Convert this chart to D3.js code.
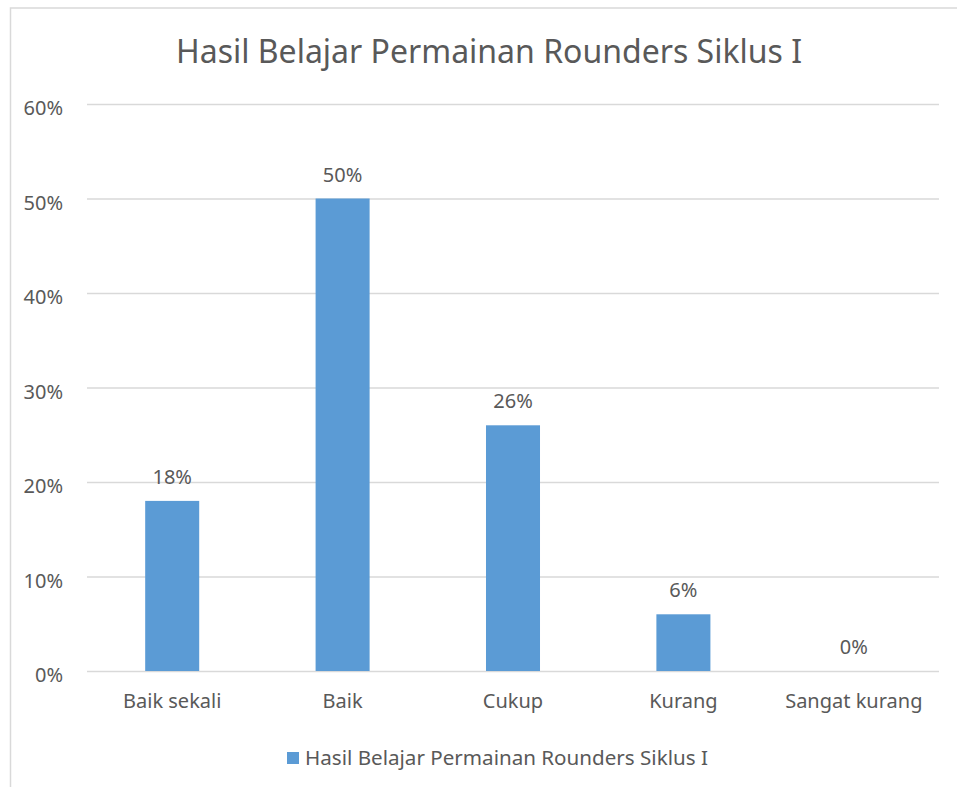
<!DOCTYPE html>
<html><head><meta charset="utf-8">
<script src="https://cdn.jsdelivr.net/npm/d3@7"></script>
<style>body{margin:0;background:#fff}svg{display:block}text{font-family:"Noto Sans",sans-serif;fill:#595959}</style>
</head><body><svg id="c" width="957" height="787"></svg>
<script>
const categories = ["Baik sekali","Baik","Cukup","Kurang","Sangat kurang"];
const values = [0.18,0.50,0.26,0.06,0.00];
const yTicks = [0,0.1,0.2,0.3,0.4,0.5,0.6];
const title = "Hasil Belajar Permainan Rounders Siklus I";
const seriesName = "Hasil Belajar Permainan Rounders Siklus I";

const svg = d3.select("#c");
svg.append("path").attr("d","M10.5,787 V8 H957").attr("fill","none").attr("stroke","#d9d9d9").attr("stroke-width",1.5);

const L=87,R=939,T=104,B=671;
const x = d3.scaleBand().domain(categories).range([L,R]).paddingInner(0.683).paddingOuter(0.3415);
const y = d3.scaleLinear().domain([0,0.6]).range([B,T]);
const fmt = d3.format(".0%");

svg.append("g").selectAll("line").data(yTicks).join("line")
  .attr("x1",L).attr("x2",R).attr("y1",d=>y(d)+0.5).attr("y2",d=>y(d)+0.5)
  .attr("stroke","#d9d9d9").attr("stroke-width",1.3);

svg.append("g").selectAll("text").data(yTicks).join("text")
  .attr("x",63).attr("y",d=>y(d)+11).attr("text-anchor","end").attr("font-size",20).text(fmt);

svg.append("g").selectAll("rect").data(values).join("rect")
  .attr("x",(d,i)=>x(categories[i])).attr("width",x.bandwidth())
  .attr("y",d=>y(d)).attr("height",d=>B-y(d)).attr("fill","#5b9bd5");

svg.append("g").selectAll("text").data(values).join("text")
  .attr("x",(d,i)=>x(categories[i])+x.bandwidth()/2).attr("y",d=>y(d)-17)
  .attr("text-anchor","middle").attr("font-size",20).text(fmt);

svg.append("g").selectAll("text").data(categories).join("text")
  .attr("x",d=>x(d)+x.bandwidth()/2).attr("y",708)
  .attr("text-anchor","middle").attr("font-size",20).text(d=>d);

svg.append("text").attr("x",489).attr("y",63).attr("text-anchor","middle").attr("font-size",32).text(title);

svg.append("rect").attr("x",287).attr("y",752).attr("width",12).attr("height",12).attr("fill","#5b9bd5");
svg.append("text").attr("x",305).attr("y",765).attr("font-size",20.6).text(seriesName);
</script></body></html>
